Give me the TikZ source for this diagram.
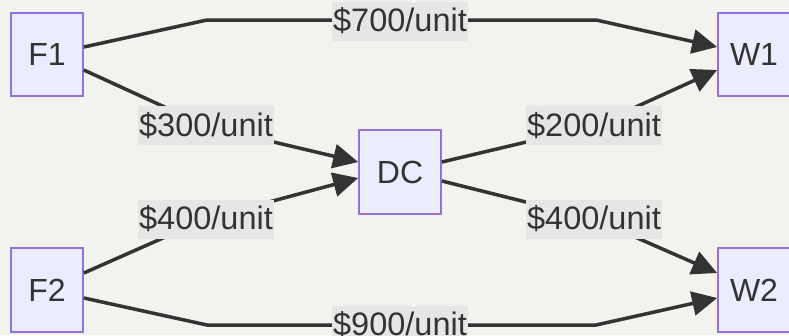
\documentclass[tikz,border=0pt]{standalone}
\usepackage{fontspec}
\setmainfont{Liberation Sans}
\usetikzlibrary{arrows.meta}
\definecolor{bgc}{HTML}{F2F2EE}
\definecolor{nodefill}{HTML}{ECECFF}
\definecolor{nodestroke}{HTML}{9370DB}
\definecolor{txtc}{HTML}{333333}
\definecolor{lblbg}{HTML}{E6E6E6}
\tikzset{
  box/.style={draw=nodestroke, fill=nodefill, line width=1.7pt, minimum width=72pt, minimum height=83.5pt, inner sep=0pt, text=txtc, font=\fontsize{32}{38}\selectfont},
  lbl/.style={fill=lblbg, inner xsep=1.5pt, inner ysep=0pt, minimum height=39pt, text=txtc, font=\fontsize{32.5}{38}\selectfont},
  edge/.style={draw=txtc, line width=3.5pt, -{Triangle[length=25pt,width=24pt]}, line join=round},
}
\begin{document}
\begin{tikzpicture}[x=1pt,y=-1pt]
\fill[bgc] (0,0) rectangle (789,335);
\useasboundingbox (0,0) rectangle (789,335);
\node[box] (F1) at (47,54.5) {F1};
\node[box] (F2) at (47,290) {F2};
\node[box, minimum width=82pt] (DC) at (400,172) {DC};
\node[box] (W1) at (754,54.5) {W1};
\node[box] (W2) at (754,290) {W2};
% edges
\draw[edge] ([yshift=7.5pt]F1.east) -- (207,20) -- (596,20) -- ([yshift=7.5pt]W1.west);
\draw[edge] ([yshift=-15.5pt]F1.east) -- (206,126) -- ([yshift=10pt]DC.west);
\draw[edge] ([yshift=17pt]F2.east) -- (206,219) -- ([yshift=-6pt]DC.west);
\draw[edge] ([yshift=10pt]DC.east) -- (594,126) -- ([yshift=-15.5pt]W1.west);
\draw[edge] ([yshift=-9pt]DC.east) -- (594,219) -- ([yshift=17pt]W2.west);
\draw[edge] ([yshift=-8pt]F2.east) -- (207,325) -- (596,325) -- ([yshift=-8pt]W2.west);
% labels
\node[lbl] (l1) at (400,21) {\$700/unit};
\node[lbl] (l2) at (206,125.5) {\$300/unit};
\node[lbl] (l3) at (206,219) {\$400/unit};
\node[lbl] (l4) at (594,125.5) {\$200/unit};
\node[lbl] (l5) at (594,219) {\$400/unit};
\node[lbl] (l6) at (400,325) {\$900/unit};
\end{tikzpicture}
\end{document}
